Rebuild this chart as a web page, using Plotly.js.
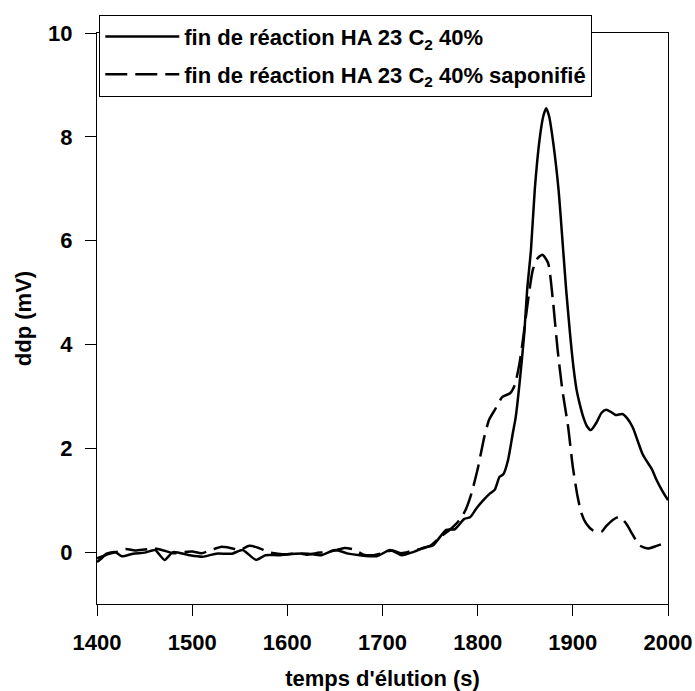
<!DOCTYPE html>
<html>
<head>
<meta charset="utf-8">
<script src="https://cdn.plot.ly/plotly-3.0.1.min.js"></script>
<style>html,body{margin:0;padding:0;background:#fff;}#chart{width:695px;height:691px;}</style>
</head>
<body>
<div id="chart"></div>
<script>
// Series 1: fin de réaction HA 23 C2 40% (solid)
const timeA = [1400,1405,1410,1419,1426,1438,1450,1461,1471,1480,1497,1511,1525,1542,1553,1567,1577,1591,1608,1622,1636,1650,1664,1676,1694,1708,1720,1732,1744,1753,1767,1776,1786,1792,1799,1806,1813,1818,1823,1827,1832,1837,1840,1844,1849,1852,1856,1860,1865,1869,1872,1875,1879,1885,1890,1893,1897,1901,1904,1907,1911,1915,1919,1925,1930,1935,1940,1945,1952,1957,1963,1968,1973,1977,1983,1988,1994,2000];
const ddpA = [-0.19,-0.12,-0.03,0.0,-0.08,-0.03,-0.01,0.04,-0.15,0.0,-0.06,-0.09,-0.03,-0.03,0.04,-0.15,-0.06,-0.06,-0.03,-0.03,-0.06,0.04,-0.03,-0.06,-0.08,0.04,-0.06,0.0,0.09,0.13,0.43,0.44,0.64,0.67,0.85,1.0,1.13,1.2,1.45,1.5,1.78,2.3,2.6,3.25,4.22,5.05,5.82,6.98,7.94,8.4,8.55,8.4,7.94,6.98,5.78,5.05,4.22,3.51,3.12,2.87,2.6,2.42,2.35,2.5,2.68,2.74,2.7,2.64,2.66,2.58,2.4,2.15,1.9,1.77,1.6,1.39,1.18,1.0];

// Series 2: fin de réaction HA 23 C2 40% saponifié (dashed)
const timeB = [1400,1410,1420,1430,1440,1450,1460,1470,1480,1490,1500,1510,1520,1530,1540,1550,1560,1570,1580,1590,1600,1610,1620,1630,1640,1650,1660,1670,1680,1690,1700,1710,1720,1730,1740,1750,1760,1770,1780,1787,1793,1800,1807,1812,1818,1826,1834,1839,1844,1848,1853,1858,1863,1868,1874,1879,1884,1889,1895,1900,1905,1909,1914,1921,1930,1935,1942,1949,1956,1963,1970,1979,1988,2000];
const ddpB = [-0.12,-0.05,0.0,0.06,0.03,0.05,0.07,0.03,-0.02,0.0,0.01,-0.02,0.04,0.1,0.08,0.04,0.12,0.08,0.0,-0.03,-0.04,-0.02,-0.05,-0.02,0.0,0.03,0.08,0.05,-0.05,-0.06,-0.02,0.03,-0.02,0.02,0.06,0.12,0.28,0.42,0.6,0.8,1.1,1.6,2.22,2.55,2.74,2.99,3.06,3.22,3.64,4.15,4.86,5.44,5.66,5.73,5.57,4.86,3.9,3.12,2.42,1.64,1.07,0.75,0.55,0.42,0.39,0.5,0.62,0.68,0.55,0.33,0.13,0.07,0.12,0.2];

const nameA = 'fin de réaction HA 23 C<sub>2</sub> 40%';
const nameB = 'fin de réaction HA 23 C<sub>2</sub> 40% saponifié';
const xTicks = [1400,1500,1600,1700,1800,1900,2000];
const yTicks = [0,2,4,6,8,10];

const FONT = {family: '"Liberation Sans", Arial, sans-serif', size: 22, color: '#000', weight: 'bold'};

const traces = [
  {x: timeA, y: ddpA, name: nameA, legendgroup: 'a', type: 'scatter', mode: 'lines',
   line: {color: '#000', width: 2.5, shape: 'spline', smoothing: 0.6}},
  {x: timeB, y: ddpB, name: nameB, legendgroup: 'b', type: 'scatter', mode: 'lines',
   line: {color: '#000', width: 2.5, dash: '22px,8px', shape: 'spline', smoothing: 0.6}}
];

const layout = {
  width: 695, height: 691,
  margin: {l: 97, r: 27, t: 33, b: 87},
  paper_bgcolor: '#fff', plot_bgcolor: '#fff',
  font: FONT,
  showlegend: true,
  legend: {x: 0.004, y: 1.032, xanchor: 'left', yanchor: 'top',
    bgcolor: '#fff', bordercolor: '#000', borderwidth: 1,
    font: FONT, itemwidth: 74, traceorder: 'grouped', tracegroupgap: 6},
  xaxis: {range: [1400, 2000], tickvals: xTicks, ticktext: xTicks.map(String),
    ticks: 'outside', ticklen: 11, tickwidth: 1, tickcolor: '#000',
    ticklabelstandoff: 8,
    showline: true, linecolor: '#000', linewidth: 1, mirror: true,
    showgrid: false, zeroline: false,
    title: {text: "temps d'élution (s)", font: FONT, standoff: 19}},
  yaxis: {range: [-1, 10], tickvals: yTicks, ticktext: yTicks.map(String),
    ticks: 'outside', ticklen: 11, tickwidth: 1, tickcolor: '#000',
    ticklabelstandoff: 8,
    showline: true, linecolor: '#000', linewidth: 1, mirror: true,
    showgrid: false, zeroline: false,
    title: {text: 'ddp (mV)', font: FONT, standoff: 10}}
};

Plotly.newPlot('chart', traces, layout, {displayModeBar: false, staticPlot: true});
</script>
</body>
</html>
